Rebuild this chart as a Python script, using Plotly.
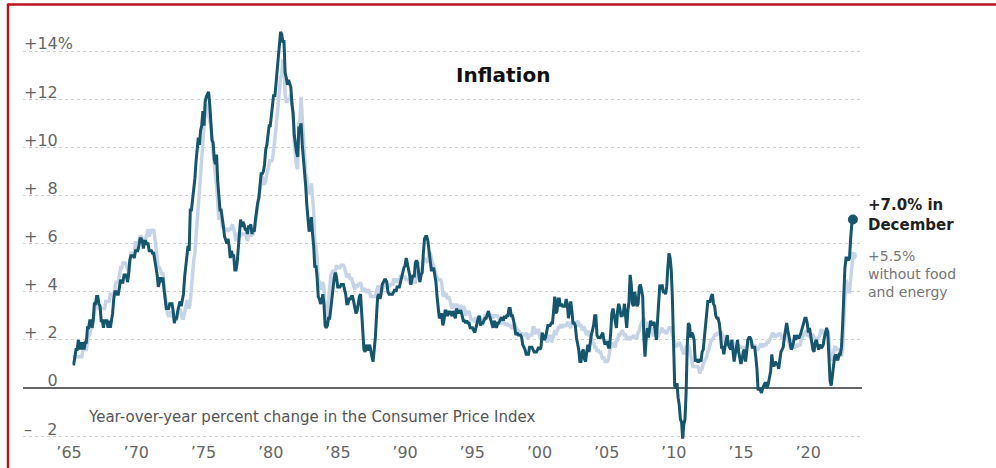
import plotly.graph_objects as go

# CPI-U, year-over-year percent change, monthly Jan 1965 - Dec 2021
start_year = 1965

headline = [
    1.0, 1.0, 1.3, 1.6, 1.6, 2.0, 1.6, 1.9, 1.6, 1.9, 1.6, 1.9,  # 1965
    1.9, 2.5, 2.5, 2.8, 2.8, 2.5, 2.8, 3.5, 3.5, 3.8, 3.8, 3.5,  # 1966
    3.4, 2.8, 2.8, 2.5, 2.8, 2.8, 2.8, 2.5, 2.8, 2.5, 2.8, 3.1,  # 1967
    3.7, 4.0, 4.0, 3.9, 3.9, 4.2, 4.5, 4.4, 4.4, 4.7, 4.7, 4.7,  # 1968
    4.4, 4.7, 5.3, 5.5, 5.5, 5.5, 5.4, 5.7, 5.7, 5.7, 5.9, 6.2,  # 1969
    6.2, 6.1, 5.8, 6.1, 6.1, 6.0, 6.0, 5.7, 5.7, 5.7, 5.6, 5.6,  # 1970
    5.3, 5.0, 4.7, 4.2, 4.4, 4.6, 4.4, 4.6, 4.1, 3.8, 3.3, 3.3,  # 1971
    3.3, 3.5, 3.5, 3.5, 3.2, 2.7, 2.9, 2.9, 3.2, 3.4, 3.6, 3.4,  # 1972
    3.6, 3.9, 4.6, 5.1, 5.5, 5.9, 5.7, 7.4, 7.4, 7.8, 8.3, 8.7,  # 1973
    9.4, 10.0, 10.4, 10.1, 10.7, 10.9, 11.5, 10.9, 11.9, 12.1, 12.2, 12.3,  # 1974
    11.8, 11.2, 10.3, 10.2, 9.5, 9.3, 9.7, 8.6, 7.9, 7.4, 7.4, 6.9,  # 1975
    6.7, 6.3, 6.1, 6.0, 6.2, 5.9, 5.4, 5.7, 5.5, 5.5, 4.9, 4.9,  # 1976
    5.2, 5.9, 6.4, 7.0, 6.7, 6.9, 6.8, 6.6, 6.6, 6.4, 6.7, 6.7,  # 1977
    6.8, 6.4, 6.6, 6.5, 7.0, 7.4, 7.7, 7.9, 8.3, 8.9, 8.9, 9.0,  # 1978
    9.3, 9.9, 10.1, 10.5, 10.9, 10.9, 11.3, 11.8, 12.2, 12.1, 12.6, 13.3,  # 1979
    13.9, 14.2, 14.8, 14.7, 14.4, 14.4, 13.1, 12.9, 12.6, 12.8, 12.6, 12.5,  # 1980
    11.8, 11.4, 10.5, 10.0, 9.8, 9.6, 10.8, 10.8, 11.0, 10.1, 9.6, 8.9,  # 1981
    8.4, 7.6, 6.8, 6.5, 6.7, 7.1, 6.4, 5.9, 5.0, 5.1, 4.6, 3.8,  # 1982
    3.7, 3.5, 3.6, 3.9, 3.5, 2.6, 2.5, 2.6, 2.9, 2.9, 3.3, 3.8,  # 1983
    4.2, 4.6, 4.8, 4.6, 4.2, 4.2, 4.2, 4.3, 4.3, 4.3, 4.1, 3.9,  # 1984
    3.5, 3.5, 3.7, 3.7, 3.8, 3.8, 3.6, 3.3, 3.1, 3.2, 3.5, 3.8,  # 1985
    3.9, 3.1, 2.2, 1.6, 1.5, 1.8, 1.6, 1.6, 1.8, 1.5, 1.3, 1.1,  # 1986
    1.5, 2.1, 3.0, 3.8, 3.9, 3.7, 3.9, 4.3, 4.4, 4.5, 4.5, 4.4,  # 1987
    4.0, 3.9, 3.9, 3.9, 3.9, 4.0, 4.1, 4.0, 4.2, 4.2, 4.2, 4.4,  # 1988
    4.7, 4.8, 5.0, 5.1, 5.4, 5.2, 5.0, 4.7, 4.3, 4.5, 4.7, 4.6,  # 1989
    5.2, 5.3, 5.2, 4.7, 4.4, 4.7, 4.8, 5.6, 6.2, 6.3, 6.3, 6.1,  # 1990
    5.7, 5.3, 4.9, 4.9, 5.0, 4.7, 4.4, 3.8, 3.4, 2.9, 3.0, 3.1,  # 1991
    2.6, 2.8, 3.2, 3.2, 3.0, 3.1, 3.2, 3.1, 3.0, 3.2, 3.0, 2.9,  # 1992
    3.3, 3.2, 3.1, 3.2, 3.2, 3.0, 2.8, 2.8, 2.7, 2.8, 2.7, 2.7,  # 1993
    2.5, 2.5, 2.5, 2.4, 2.3, 2.5, 2.8, 2.9, 3.0, 2.6, 2.7, 2.7,  # 1994
    2.8, 2.9, 2.9, 3.1, 3.2, 3.0, 2.8, 2.6, 2.5, 2.8, 2.6, 2.5,  # 1995
    2.7, 2.7, 2.8, 2.9, 2.9, 2.8, 3.0, 2.9, 3.0, 3.0, 3.3, 3.3,  # 1996
    3.0, 3.0, 2.8, 2.5, 2.2, 2.3, 2.2, 2.2, 2.2, 2.1, 1.8, 1.7,  # 1997
    1.6, 1.4, 1.4, 1.4, 1.7, 1.7, 1.7, 1.6, 1.5, 1.5, 1.5, 1.6,  # 1998
    1.7, 1.6, 1.7, 2.3, 2.1, 2.0, 2.1, 2.3, 2.6, 2.6, 2.6, 2.7,  # 1999
    2.7, 3.2, 3.8, 3.1, 3.2, 3.7, 3.7, 3.4, 3.5, 3.4, 3.4, 3.4,  # 2000
    3.7, 3.5, 2.9, 3.3, 3.6, 3.2, 2.7, 2.7, 2.6, 2.1, 1.9, 1.6,  # 2001
    1.1, 1.1, 1.5, 1.6, 1.2, 1.1, 1.5, 1.8, 1.5, 2.0, 2.2, 2.4,  # 2002
    2.6, 3.0, 3.0, 2.2, 2.1, 2.1, 2.1, 2.2, 2.3, 2.0, 1.8, 1.9,  # 2003
    1.9, 1.7, 1.7, 2.3, 3.1, 3.3, 3.0, 2.7, 2.5, 3.2, 3.5, 3.3,  # 2004
    3.0, 3.0, 3.1, 3.5, 2.8, 2.5, 3.2, 3.6, 4.7, 4.3, 3.5, 3.4,  # 2005
    4.0, 3.6, 3.4, 3.5, 4.2, 4.3, 4.1, 3.8, 2.1, 1.3, 2.0, 2.5,  # 2006
    2.1, 2.4, 2.8, 2.6, 2.7, 2.7, 2.4, 2.0, 2.8, 3.5, 4.3, 4.1,  # 2007
    4.3, 4.0, 4.0, 3.9, 4.2, 5.0, 5.6, 5.4, 4.9, 3.7, 1.1, 0.1,  # 2008
    0.0, 0.2, -0.4, -0.7, -1.3, -1.4, -2.1, -1.5, -1.3, -0.2, 1.8, 2.7,  # 2009
    2.6, 2.1, 2.3, 2.2, 2.0, 1.1, 1.2, 1.1, 1.1, 1.2, 1.1, 1.5,  # 2010
    1.6, 2.1, 2.7, 3.2, 3.6, 3.6, 3.6, 3.8, 3.9, 3.5, 3.4, 3.0,  # 2011
    2.9, 2.9, 2.7, 2.3, 1.7, 1.7, 1.4, 1.7, 2.0, 2.2, 1.8, 1.7,  # 2012
    1.6, 2.0, 1.5, 1.1, 1.4, 1.8, 2.0, 1.5, 1.2, 1.0, 1.2, 1.5,  # 2013
    1.6, 1.1, 1.5, 2.0, 2.1, 2.1, 2.0, 1.7, 1.7, 1.7, 1.3, 0.8,  # 2014
    -0.1, 0.0, -0.1, -0.2, 0.0, 0.1, 0.2, 0.2, 0.0, 0.2, 0.5, 0.7,  # 2015
    1.4, 1.0, 0.9, 1.1, 1.0, 1.0, 0.8, 1.1, 1.5, 1.6, 1.7, 2.1,  # 2016
    2.5, 2.7, 2.4, 2.2, 1.9, 1.6, 1.7, 1.9, 2.2, 2.0, 2.2, 2.1,  # 2017
    2.1, 2.2, 2.4, 2.5, 2.8, 2.9, 2.9, 2.7, 2.3, 2.5, 2.2, 1.9,  # 2018
    1.6, 1.5, 1.9, 2.0, 1.8, 1.6, 1.8, 1.7, 1.7, 1.8, 2.1, 2.3,  # 2019
    2.5, 2.3, 1.5, 0.3, 0.1, 0.6, 1.0, 1.3, 1.4, 1.2, 1.2, 1.4,  # 2020
    1.4, 1.7, 2.6, 4.2, 5.0, 5.4, 5.4, 5.3, 5.4, 6.2, 6.8, 7.0,  # 2021
]

# without food and energy
core = [
    1.3, 1.3, 1.3, 1.3, 1.3, 1.3, 1.3, 1.3, 1.3, 1.6, 1.6, 1.6,  # 1965
    1.6, 1.9, 2.2, 2.2, 2.5, 2.5, 2.8, 3.1, 3.4, 3.4, 3.7, 3.3,  # 1966
    3.3, 3.3, 3.3, 3.3, 3.3, 3.6, 3.6, 3.6, 3.6, 3.9, 3.9, 3.8,  # 1967
    3.9, 4.1, 4.4, 4.4, 4.4, 4.7, 5.0, 5.0, 5.2, 5.2, 5.2, 5.1,  # 1968
    4.9, 4.8, 5.1, 5.6, 5.6, 5.6, 5.6, 6.1, 5.8, 5.8, 6.0, 6.3,  # 1969
    6.3, 6.2, 6.2, 6.2, 6.2, 6.4, 6.6, 6.3, 6.5, 6.6, 6.5, 6.6,  # 1970
    6.2, 5.8, 5.2, 5.0, 5.0, 4.9, 4.7, 4.8, 4.3, 3.9, 3.4, 3.1,  # 1971
    3.0, 3.0, 3.2, 3.0, 3.0, 2.9, 2.9, 2.8, 3.2, 3.1, 3.3, 3.0,  # 1972
    2.9, 2.9, 3.2, 3.4, 3.6, 3.6, 3.3, 3.6, 4.3, 4.9, 5.3, 5.6,  # 1973
    6.3, 6.8, 7.4, 7.9, 8.8, 9.6, 10.2, 10.9, 11.5, 11.6, 11.8, 11.3,  # 1974
    11.0, 10.9, 10.3, 9.9, 9.3, 8.8, 8.4, 7.7, 7.0, 7.1, 7.1, 6.7,  # 1975
    6.7, 6.6, 6.6, 6.6, 6.5, 6.6, 6.6, 6.7, 6.8, 6.6, 6.3, 6.1,  # 1976
    6.4, 6.4, 6.4, 6.3, 6.4, 6.4, 6.4, 6.4, 6.3, 6.1, 6.4, 6.5,  # 1977
    6.3, 6.4, 6.4, 6.6, 6.8, 7.2, 7.6, 8.0, 8.4, 8.6, 8.8, 8.5,  # 1978
    8.5, 8.6, 8.9, 9.1, 9.4, 9.5, 9.4, 9.5, 9.9, 10.6, 10.8, 11.3,  # 1979
    11.9, 12.1, 12.9, 13.0, 13.6, 13.6, 12.2, 11.9, 11.9, 12.0, 12.0, 12.2,  # 1980
    11.9, 11.4, 10.2, 9.6, 9.2, 9.1, 11.0, 11.1, 12.1, 11.2, 10.5, 9.5,  # 1981
    8.9, 8.7, 8.1, 8.1, 8.1, 8.5, 8.0, 7.3, 6.1, 5.9, 5.4, 4.5,  # 1982
    4.4, 4.2, 4.1, 4.4, 4.2, 3.1, 2.7, 3.1, 3.6, 4.0, 4.7, 4.8,  # 1983
    4.9, 4.7, 5.0, 5.1, 5.0, 5.0, 5.0, 5.1, 5.1, 5.1, 5.0, 4.7,  # 1984
    4.6, 4.7, 4.7, 4.5, 4.6, 4.4, 4.2, 4.1, 4.3, 4.2, 4.3, 4.3,  # 1985
    4.4, 4.1, 4.0, 4.1, 4.1, 4.0, 4.0, 4.1, 3.9, 3.8, 3.8, 3.8,  # 1986
    3.8, 3.8, 4.0, 4.2, 4.2, 4.0, 4.0, 4.1, 4.3, 4.3, 4.3, 4.2,  # 1987
    4.3, 4.2, 4.3, 4.3, 4.3, 4.5, 4.5, 4.4, 4.5, 4.5, 4.4, 4.7,  # 1988
    4.6, 4.6, 4.6, 4.6, 4.5, 4.5, 4.5, 4.4, 4.3, 4.4, 4.4, 4.4,  # 1989
    4.4, 4.6, 4.8, 4.8, 4.8, 4.9, 5.0, 5.3, 5.4, 5.3, 5.3, 5.2,  # 1990
    5.6, 5.6, 5.3, 5.2, 5.1, 4.8, 4.7, 4.6, 4.5, 4.5, 4.5, 4.4,  # 1991
    3.9, 3.8, 3.9, 3.9, 3.7, 3.8, 3.7, 3.5, 3.3, 3.5, 3.4, 3.3,  # 1992
    3.5, 3.4, 3.3, 3.4, 3.4, 3.3, 3.4, 3.3, 3.0, 3.2, 3.1, 3.2,  # 1993
    2.9, 2.8, 2.9, 2.8, 2.8, 2.9, 2.9, 2.9, 3.0, 2.9, 2.8, 2.6,  # 1994
    2.9, 3.0, 3.0, 3.1, 3.1, 3.0, 3.0, 3.0, 2.9, 3.0, 3.0, 3.0,  # 1995
    3.0, 2.9, 2.8, 2.7, 2.7, 2.7, 2.7, 2.6, 2.7, 2.6, 2.6, 2.6,  # 1996
    2.5, 2.5, 2.5, 2.7, 2.5, 2.4, 2.4, 2.3, 2.2, 2.3, 2.2, 2.2,  # 1997
    2.2, 2.3, 2.1, 2.1, 2.2, 2.2, 2.2, 2.5, 2.5, 2.3, 2.3, 2.4,  # 1998
    2.4, 2.1, 2.1, 2.2, 2.0, 2.1, 2.1, 1.9, 2.0, 2.1, 2.2, 1.9,  # 1999
    2.0, 2.2, 2.4, 2.2, 2.4, 2.5, 2.5, 2.6, 2.6, 2.5, 2.6, 2.6,  # 2000
    2.6, 2.7, 2.7, 2.6, 2.5, 2.7, 2.7, 2.7, 2.6, 2.6, 2.8, 2.7,  # 2001
    2.6, 2.6, 2.4, 2.5, 2.5, 2.3, 2.2, 2.4, 2.2, 2.2, 2.0, 1.9,  # 2002
    1.9, 1.7, 1.7, 1.5, 1.6, 1.5, 1.5, 1.3, 1.2, 1.3, 1.1, 1.1,  # 2003
    1.1, 1.2, 1.6, 1.8, 1.7, 1.9, 1.8, 1.7, 2.0, 2.0, 2.2, 2.2,  # 2004
    2.3, 2.4, 2.3, 2.2, 2.2, 2.0, 2.1, 2.1, 2.0, 2.1, 2.1, 2.2,  # 2005
    2.1, 2.1, 2.1, 2.3, 2.4, 2.6, 2.7, 2.8, 2.9, 2.7, 2.6, 2.6,  # 2006
    2.7, 2.7, 2.5, 2.3, 2.2, 2.2, 2.2, 2.1, 2.1, 2.2, 2.3, 2.4,  # 2007
    2.5, 2.3, 2.4, 2.3, 2.3, 2.4, 2.5, 2.5, 2.5, 2.2, 2.0, 1.8,  # 2008
    1.7, 1.8, 1.8, 1.9, 1.8, 1.7, 1.5, 1.4, 1.5, 1.7, 1.7, 1.8,  # 2009
    1.6, 1.3, 1.1, 0.9, 0.9, 0.9, 0.9, 0.9, 0.8, 0.6, 0.8, 0.8,  # 2010
    1.0, 1.1, 1.2, 1.3, 1.5, 1.6, 1.8, 2.0, 2.0, 2.1, 2.2, 2.2,  # 2011
    2.3, 2.2, 2.3, 2.3, 2.3, 2.2, 2.1, 1.9, 2.0, 2.0, 1.9, 1.9,  # 2012
    1.9, 2.0, 1.9, 1.7, 1.7, 1.6, 1.7, 1.8, 1.7, 1.7, 1.7, 1.7,  # 2013
    1.6, 1.6, 1.7, 1.8, 2.0, 1.9, 1.9, 1.7, 1.7, 1.8, 1.7, 1.6,  # 2014
    1.6, 1.7, 1.8, 1.8, 1.7, 1.8, 1.8, 1.8, 1.9, 1.9, 2.0, 2.1,  # 2015
    2.2, 2.3, 2.2, 2.1, 2.2, 2.2, 2.2, 2.3, 2.2, 2.1, 2.1, 2.2,  # 2016
    2.3, 2.2, 2.0, 1.9, 1.7, 1.7, 1.7, 1.7, 1.7, 1.8, 1.7, 1.8,  # 2017
    1.8, 1.8, 2.1, 2.1, 2.2, 2.3, 2.4, 2.2, 2.2, 2.1, 2.2, 2.2,  # 2018
    2.2, 2.1, 2.0, 2.1, 2.0, 2.1, 2.2, 2.4, 2.4, 2.3, 2.3, 2.3,  # 2019
    2.3, 2.4, 2.1, 1.4, 1.2, 1.2, 1.6, 1.7, 1.7, 1.6, 1.6, 1.6,  # 2020
    1.4, 1.3, 1.6, 3.0, 3.8, 4.5, 4.3, 4.0, 4.0, 4.6, 4.9, 5.5,  # 2021
]

ytick_vals = [-2, 0, 2, 4, 6, 8, 10, 12, 14]
ytick_text = ["\u2013\u00a0\u00a0\u00a02", "\u00a0\u00a0\u00a0\u00a0\u20090", "+\u00a0\u00a02", "+\u00a0\u00a04",
              "+\u00a0\u00a06", "+\u00a0\u00a08", "+10", "+12", "+14%"]
xtick_text = ["\u201965", "\u201970", "\u201975", "\u201980", "\u201985", "\u201990",
              "\u201995", "\u201900", "\u201905", "\u201910", "\u201915", "\u201920"]

headline_label = "+7.0% in<br>December"
core_label = "+5.5%<br>without food<br>and energy"

dates = [start_year + i / 12 for i in range(len(headline))]

DARK = "#14566d"
LIGHT = "#c7d4e8"
FONT = "DejaVu Sans"
Y_RANGE = [-2.2, 15]

# pixel layout of the 996x468 picture
W, H = 996, 468
L, R, T, B = 23, 134, 26.5, 27
pw, ph = W - L - R, H - T - B


def px(x):
    return (x - L) / pw


def py(y):
    return (H - B - y) / ph


fig = go.Figure()
fig.add_trace(go.Scatter(x=dates, y=core, mode="lines", line=dict(color=LIGHT, width=3.5),
                         hoverinfo="skip", name="core"))
fig.add_trace(go.Scatter(x=[dates[-1]], y=[core[-1]], mode="markers",
                         marker=dict(color=LIGHT, size=8), hoverinfo="skip"))
# headline on the overlaid axis (same range) so it is drawn on top and carries the tick labels
fig.add_trace(go.Scatter(x=dates, y=headline, mode="lines", line=dict(color=DARK, width=3),
                         hoverinfo="skip", name="headline", yaxis="y2"))
fig.add_trace(go.Scatter(x=[dates[-1]], y=[headline[-1]], mode="markers",
                         marker=dict(color=DARK, size=10), hoverinfo="skip", yaxis="y2"))

# tick labels in the picture sit a little left of the true years
xtick_vals = [1964.74 + 4.9015 * k for k in range(len(xtick_text))]

fig.update_xaxes(range=[1961.38, 2022.58], tickvals=xtick_vals, ticktext=xtick_text,
                 showgrid=False, zeroline=False, showline=False, ticks="", automargin=False,
                 tickfont=dict(family=FONT, size=16, color="#666"), fixedrange=True)

fig.update_layout(
    yaxis=dict(range=Y_RANGE, tickvals=ytick_vals, showticklabels=False, ticks="",
               automargin=False, showgrid=True, gridcolor="#cfcfcf", griddash="dot", gridwidth=1,
               zeroline=True, zerolinecolor="#666", zerolinewidth=1.5, showline=False,
               fixedrange=True),
    # labels sit just right of the left edge, above each gridline
    yaxis2=dict(range=Y_RANGE, overlaying="y", side="right", anchor="free", position=0,
                tickvals=ytick_vals, ticktext=ytick_text, ticklabelposition="outside top",
                ticklabelshift=4,
                ticks="", automargin=False, showgrid=False, zeroline=False, showline=False,
                tickfont=dict(family=FONT, size=16, color="#666"), fixedrange=True),
)

anns = [
    dict(x=px(503), y=py(75), text="<b>Inflation</b>", font=dict(family=FONT, size=20, color="#111"),
         xanchor="center", yanchor="middle"),
    dict(x=px(86), y=py(417), text="Year-over-year percent change in the Consumer Price Index",
         font=dict(family=FONT, size=15, color="#555"), xanchor="left", yanchor="middle"),
    dict(x=px(866), y=py(215), text="<b>" + headline_label + "</b>",
         font=dict(family=FONT, size=15, color="#222"), xanchor="left", yanchor="middle", align="left"),
    dict(x=px(866), y=py(274), text=core_label,
         font=dict(family=FONT, size=14, color="#777"), xanchor="left", yanchor="middle", align="left"),
]
for a in anns:
    a.update(xref="paper", yref="paper", showarrow=False)

# dark red frame at the left and top of the picture
frame = [
    dict(type="line", xref="paper", yref="paper", x0=px(8), x1=px(8), y0=py(H), y1=py(3),
         line=dict(color="#b8141c", width=2.5)),
    dict(type="line", xref="paper", yref="paper", x0=px(8), x1=px(W), y0=py(4), y1=py(4),
         line=dict(color="#b8141c", width=2.5)),
]

fig.update_layout(
    width=W, height=H,
    margin=dict(l=L, r=R, t=T, b=B),
    paper_bgcolor="white", plot_bgcolor="white",
    showlegend=False,
    annotations=anns,
    shapes=frame,
)

# drop the browser's default page margin so the figure sits at the window corner
fig.write_html("out.html", config={"displayModeBar": False},
               post_script="document.body.style.margin='0';")
